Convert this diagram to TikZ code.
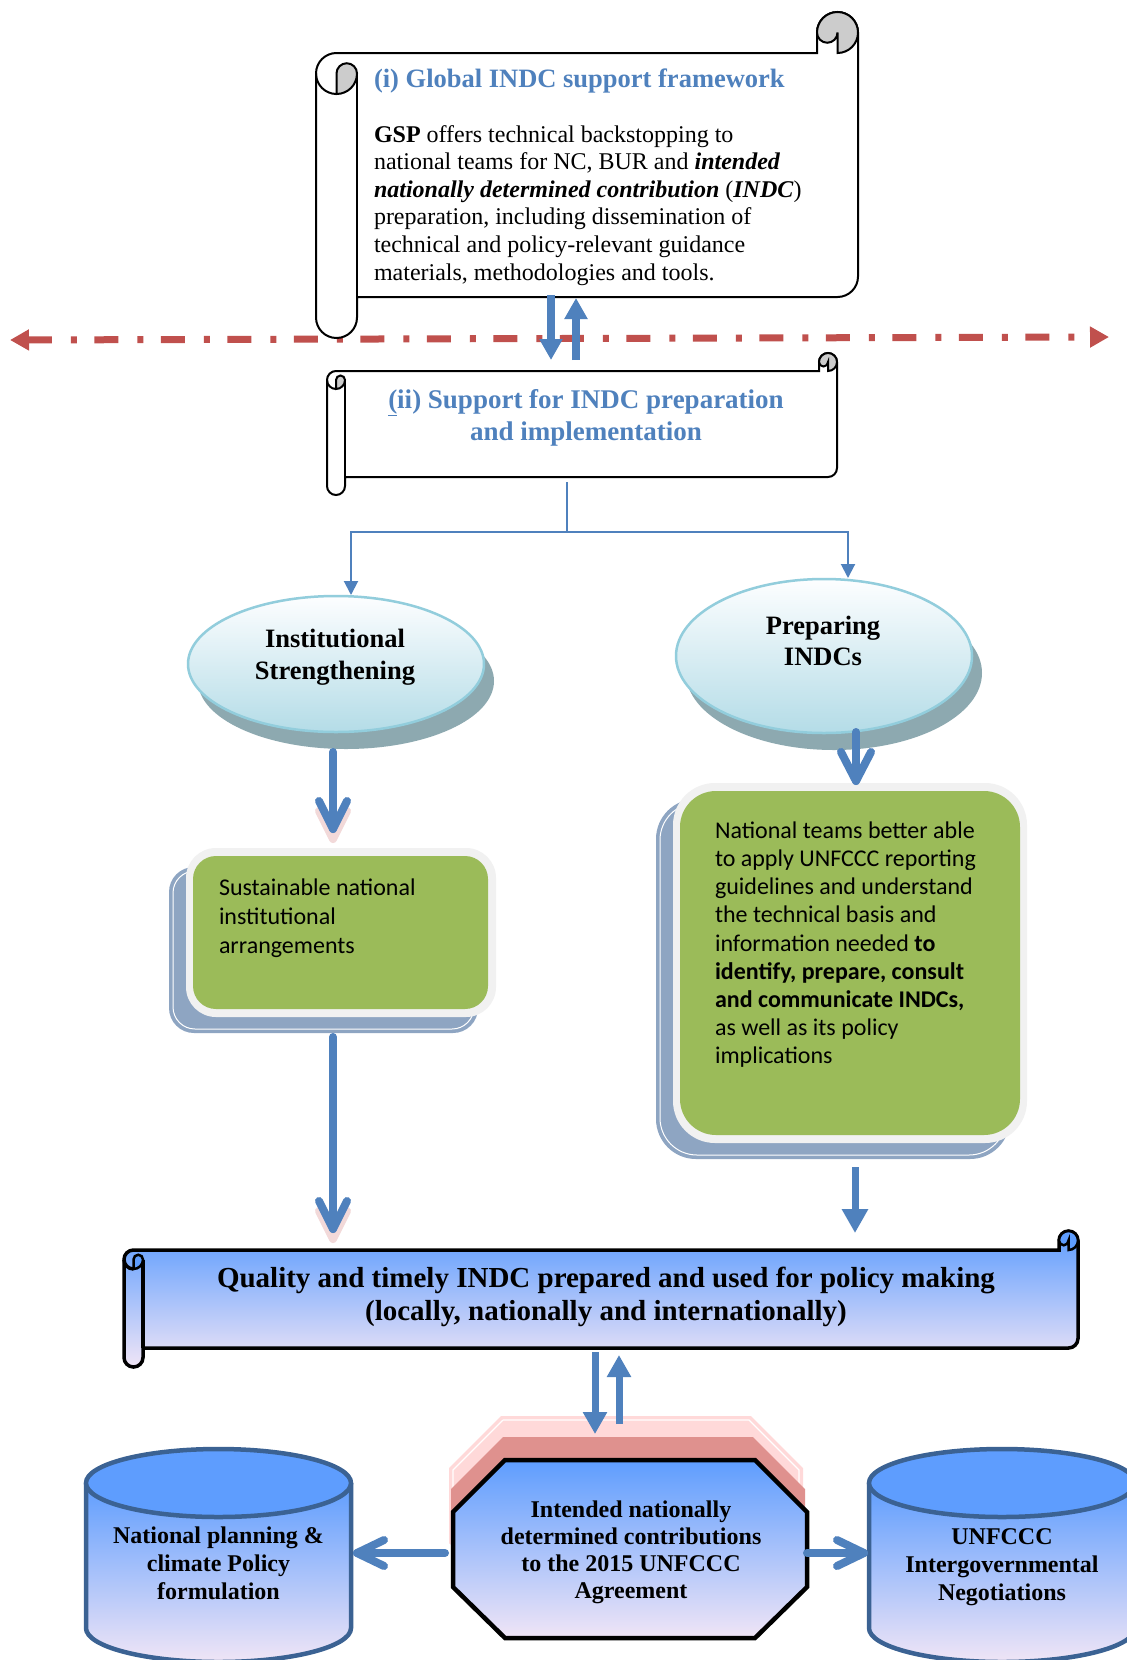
\documentclass[tikz,border=0pt]{standalone}
\usepackage{fontspec}
\setmainfont{Liberation Serif}
\newfontfamily\calfont{Carlito}
\usetikzlibrary{arrows.meta,shapes.geometric,calc}
\definecolor{ablue}{HTML}{4F81BD}
\definecolor{dred}{HTML}{C0504D}
\definecolor{gboxc}{HTML}{9BBB59}
\definecolor{gborder}{HTML}{F1F1F1}
\definecolor{gshadow}{HTML}{8EA5C2}
\definecolor{eline}{HTML}{92CDDC}
\definecolor{etop}{HTML}{FDFEFF}
\definecolor{ebot}{HTML}{B4DCE7}
\definecolor{eshadow}{HTML}{8DA9B0}
\definecolor{gTop}{HTML}{5E9DFE}
\definecolor{gMid}{HTML}{8CC0F9}
\definecolor{gBot}{HTML}{F0E5F6}
\definecolor{cylline}{HTML}{3B6293}
\definecolor{pinkA}{HTML}{FFD9D9}
\definecolor{pinkB}{HTML}{DF918E}
\definecolor{curlgray}{HTML}{CCCCCC}
\definecolor{vpink}{HTML}{F2D9D9}

% L R T B r silhouette-style line-style curl-style
\newcommand\drawscroll[8]{%
  \pgfmathsetmacro\scL{#1}\pgfmathsetmacro\scR{#2}%
  \pgfmathsetmacro\scT{#3}\pgfmathsetmacro\scB{#4}\pgfmathsetmacro\scr{#5}%
  \pgfmathsetmacro\scE{\scB+2*\scr}\pgfmathsetmacro\sch{\scr/2}%
  \path[#6] (\scL,\scT+\scr) -- (\scL,\scE-\scr)
    arc[start angle=180,end angle=0,radius=\scr] -- (\scL+2*\scr,\scB)
    -- (\scR-\scr,\scB) arc[start angle=90,end angle=0,radius=\scr]
    -- (\scR,\scT-\scr) arc[start angle=0,end angle=-180,radius=\scr]
    -- (\scR-2*\scr,\scT) -- (\scL+\scr,\scT)
    arc[start angle=-90,end angle=-180,radius=\scr] -- cycle;
  \path[#7] (\scL+2*\scr,\scT+\scr) -- (\scL+2*\scr,\scB);
  \path[#7] (\scL,\scT+\scr) arc[start angle=180,end angle=90,radius=\scr];
  \path[#8] (\scL+\scr,\scT+2*\scr) arc[start angle=90,end angle=0,radius=\scr]
    arc[start angle=0,end angle=-180,radius=\sch] -- cycle;
  \path[#8] (\scR-\scr,\scT) arc[start angle=90,end angle=-180,radius=\scr]
    arc[start angle=180,end angle=0,radius=\sch] -- cycle;
}

\begin{document}
\begin{tikzpicture}[x=1pt,y=-1pt,
  txt/.style={inner sep=0pt,outer sep=0pt},
  ttl/.style={txt,text=ablue,font=\bfseries\fontsize{26.5}{31}\selectfont},
  bodytxt/.style={txt,align=left,anchor=north west,font=\fontsize{24}{27.6}\selectfont},
  etext/.style={txt,align=center,anchor=north,font=\bfseries\fontsize{26.5}{31.5}\selectfont},
  gtext/.style={txt,align=left,anchor=north west,font=\calfont\fontsize{24}{28.5}\selectfont},
  btext/.style={txt,align=center,anchor=north,font=\bfseries\fontsize{24}{27.5}\selectfont},
  dashln/.style={dred,line width=7,dash pattern=on 24pt off 19pt on 6pt off 17.5pt,
     {Triangle[length=19pt,width=20pt]}-{Triangle[length=19pt,width=20pt]}},
  dbl/.style={ablue,line width=8,-{Triangle[length=21pt,width=22pt]}},
  conn/.style={ablue,line width=2,line join=miter},
  connarr/.style={conn,-{Triangle[length=14pt,width=14pt]}},
  vline/.style={ablue,line width=8,line cap=round,line join=round},
  vshade/.style={vpink,line width=8,line cap=round,line join=round},
  ellnode/.style={ellipse,draw=eline,line width=2.5,top color=etop,bottom color=ebot,inner sep=0pt},
  gbox/.style={rectangle,fill=gboxc,inner sep=0pt},
  cyl/.style={draw=cylline,line width=4.5},
  grad/.style={top color=gTop,middle color=gMid,bottom color=gBot}
]
\clip (0,0) rectangle (1127,1660);
\fill[white] (0,0) rectangle (1127,1660);

% ---------- dash-dot boundary ----------
\coordinate (dL) at (10,340);
\coordinate (dR) at (1109,337);
\draw[dashln] (dL) -- (dR);

% ---------- (i) top scroll ----------
\drawscroll{316}{858}{53}{297}{20.5}{draw=black,line width=2,fill=white}{draw=black,line width=2}{draw=black,line width=2,fill=curlgray}
\node[ttl,anchor=base west] (ttl1) at (374,87) {(i) Global INDC support framework};
\node[bodytxt] (body1) at (374,122.7) {\strut\textbf{GSP} offers technical backstopping to\\
national teams for NC, BUR and \textbf{\textit{intended}}\\
\textbf{\textit{nationally determined contribution}} (\textbf{\textit{INDC}})\\
preparation, including dissemination of\\
technical and policy-relevant guidance\\
materials, methodologies and tools.};

% ---------- (ii) scroll ----------
\drawscroll{327}{837}{371}{477}{9}{draw=black,line width=2,fill=white}{draw=black,line width=2}{draw=black,line width=2,fill=curlgray}
\node[ttl,align=center,anchor=north,font=\bfseries\fontsize{27}{32}\selectfont] (ttl2) at (586,385.6)
  {\strut\underline{(}ii) Support for INDC preparation\\and implementation};

% ---------- top double arrows ----------
\coordinate (u1s) at (551,295); \coordinate (u1e) at (551,360);
\coordinate (u2s) at (576,360); \coordinate (u2e) at (576,298);
\draw[dbl] (u1s) -- (u1e);
\draw[dbl] (u2s) -- (u2e);

% ---------- branching connector ----------
\coordinate (s2bot) at (567,482);
\coordinate (jM) at (567,532);
\coordinate (jL) at (351,532);
\coordinate (jR) at (848,532);
\coordinate (tL) at (351,595);
\coordinate (tR) at (848,578);
\draw[conn] (s2bot) -- (jM);
\draw[connarr] (jM) -- (jL) -- (tL);
\draw[connarr] (jM) -- (jR) -- (tR);

% ---------- ellipses ----------
\fill[eshadow] (346,681) ellipse[x radius=148,y radius=68];
\node[ellnode,minimum width=296,minimum height=136] (ellL) at (336,664) {};
\node[etext] (ellLt) at (335,625.6) {\strut Institutional\\Strengthening};

\fill[eshadow] (834,673) ellipse[x radius=148,y radius=77];
\node[ellnode,minimum width=296,minimum height=154] (ellR) at (824,656) {};
\node[etext,font=\bfseries\fontsize{26.5}{31}\selectfont] (ellRt) at (823,612.3) {\strut Preparing\\INDCs};

% ---------- green boxes ----------
\fill[gshadow,rounded corners=25] (169,867) rectangle (478,1033);
\draw[white,line width=1,rounded corners=22] (173,871) rectangle (474,1029);
\fill[gborder,rounded corners=30] (186,848) rectangle (496,1017);
\node[gbox,minimum width=295,minimum height=153,rounded corners=23] (gL) at (340.5,932.5) {};
\node[gtext,font=\calfont\fontsize{24}{29}\selectfont] (gLt) at (219,874.7) {\strut Sustainable national\\institutional\\arrangements};

\fill[gshadow,rounded corners=40] (656,799) rectangle (1010,1159);
\draw[white,line width=1,rounded corners=37] (660,803) rectangle (1006,1155);
\fill[gborder,rounded corners=42] (673,783) rectangle (1027,1143);
\node[gbox,minimum width=340,minimum height=344,rounded corners=36] (gR) at (850,963) {};
\node[gtext,font=\calfont\fontsize{24}{28.2}\selectfont] (gRt) at (715,818.6) {\strut National teams better able\\
to apply UNFCCC reporting\\
guidelines and understand\\
the technical basis and\\
information needed \textbf{to}\\
\textbf{identify, prepare, consult}\\
\textbf{and communicate INDCs,}\\
as well as its policy\\
implications};

% ---------- V arrows ----------
\coordinate (v1s) at (333,752); \coordinate (v1e) at (333,829);
\draw[vshade] ($(v1e)+(-14,-18)$) -- ($(v1e)+(0,10)$) -- ($(v1e)+(14,-18)$);
\draw[vline] (v1s) -- (v1e);
\draw[vline] ($(v1e)+(-14,-28)$) -- (v1e) -- ($(v1e)+(14,-28)$);

\coordinate (v2s) at (856,732); \coordinate (v2e) at (856,781);
\draw[vline] (v2s) -- (v2e);
\draw[vline] ($(v2e)+(-15,-29)$) -- (v2e) -- ($(v2e)+(15,-29)$);

\coordinate (v3s) at (333,1037); \coordinate (v3e) at (333,1229);
\draw[vshade] ($(v3e)+(-14,-18)$) -- ($(v3e)+(0,10)$) -- ($(v3e)+(14,-18)$);
\draw[vline] (v3s) -- (v3e);
\draw[vline] ($(v3e)+(-14,-28)$) -- (v3e) -- ($(v3e)+(14,-28)$);

\coordinate (v4s) at (855,1167); \coordinate (v4e) at (855,1233);
\draw[ablue,line width=7,-{Triangle[length=24pt,width=25pt]}] (v4s) -- (v4e);

% ---------- banner ----------
\drawscroll{124}{1078}{1250}{1348}{9.5}{draw=black,line width=3.5,grad}{draw=black,line width=3.5}{draw=black,line width=2.5,fill=gTop}
\node[txt,align=center,anchor=north,font=\bfseries\fontsize{29}{33}\selectfont] (bant) at (606,1263.9)
  {\strut Quality and timely INDC prepared and used for policy making\\(locally, nationally and internationally)};

% ---------- octagon ----------
\fill[pinkA] (501,1416) -- (751,1416) -- (803,1468) -- (803,1543) -- (751,1594) -- (501,1594) -- (449,1543) -- (449,1468) -- cycle;
\draw[white,line width=1.2] (503,1420) -- (749,1420) -- (799,1470) -- (799,1541);
\draw[white,line width=1.2] (503,1420) -- (453,1470) -- (453,1541);
\fill[pinkB] (503,1437) -- (753,1437) -- (805,1489) -- (805,1564) -- (753,1615) -- (503,1615) -- (451,1564) -- (451,1489) -- cycle;
\path[draw=black,line width=4.5,line join=miter,grad] (505,1460) -- (755,1460) -- (807,1512) -- (807,1587) -- (755,1638) -- (505,1638) -- (453,1587) -- (453,1512) -- cycle;
\node[btext,font=\bfseries\fontsize{24}{27}\selectfont] (oct) at (631,1498.1)
  {\strut Intended nationally\\determined contributions\\to the 2015 UNFCCC\\Agreement};

% ---------- bottom double arrows ----------
\coordinate (b1s) at (595,1352); \coordinate (b1e) at (595,1434);
\coordinate (b2s) at (619,1424); \coordinate (b2e) at (619,1355);
\draw[ablue,line width=7,-{Triangle[length=22pt,width=23pt]}] (b1s) -- (b1e);
\draw[ablue,line width=7,-{Triangle[length=22pt,width=23pt]}] (b2s) -- (b2e);

% ---------- cylinders ----------
\path[grad] (86,1483) -- (86,1628) arc[start angle=180,end angle=0,x radius=132.5,y radius=34] -- (351,1483) -- cycle;
\draw[cyl] (86,1483) -- (86,1628) arc[start angle=180,end angle=0,x radius=132.5,y radius=34] -- (351,1483);
\draw[cyl,fill=gTop] (218.5,1483) ellipse[x radius=132.5,y radius=34];
\node[btext,font=\bfseries\fontsize{24}{28}\selectfont] (cylL) at (218.5,1523.4) {\strut National planning \&\\climate Policy\\formulation};

\path[grad] (869,1483) -- (869,1628) arc[start angle=180,end angle=0,x radius=133,y radius=34] -- (1135,1483) -- cycle;
\draw[cyl] (869,1483) -- (869,1628) arc[start angle=180,end angle=0,x radius=133,y radius=34] -- (1135,1483);
\draw[cyl,fill=gTop] (1002,1483) ellipse[x radius=133,y radius=34];
\node[btext,font=\bfseries\fontsize{24}{28}\selectfont] (cylR) at (1002,1524.4) {\strut UNFCCC\\Intergovernmental\\Negotiations};

% ---------- side arrows ----------
\coordinate (h1s) at (445,1553); \coordinate (h1e) at (357,1553);
\draw[vline] (h1s) -- (h1e);
\draw[vline] ($(h1e)+(27,-13)$) -- (h1e) -- ($(h1e)+(27,13)$);
\coordinate (h2s) at (807,1553); \coordinate (h2e) at (864,1553);
\draw[vline] (h2s) -- (h2e);
\draw[vline] ($(h2e)+(-27,-13)$) -- (h2e) -- ($(h2e)+(-27,13)$);
\end{tikzpicture}
\end{document}
